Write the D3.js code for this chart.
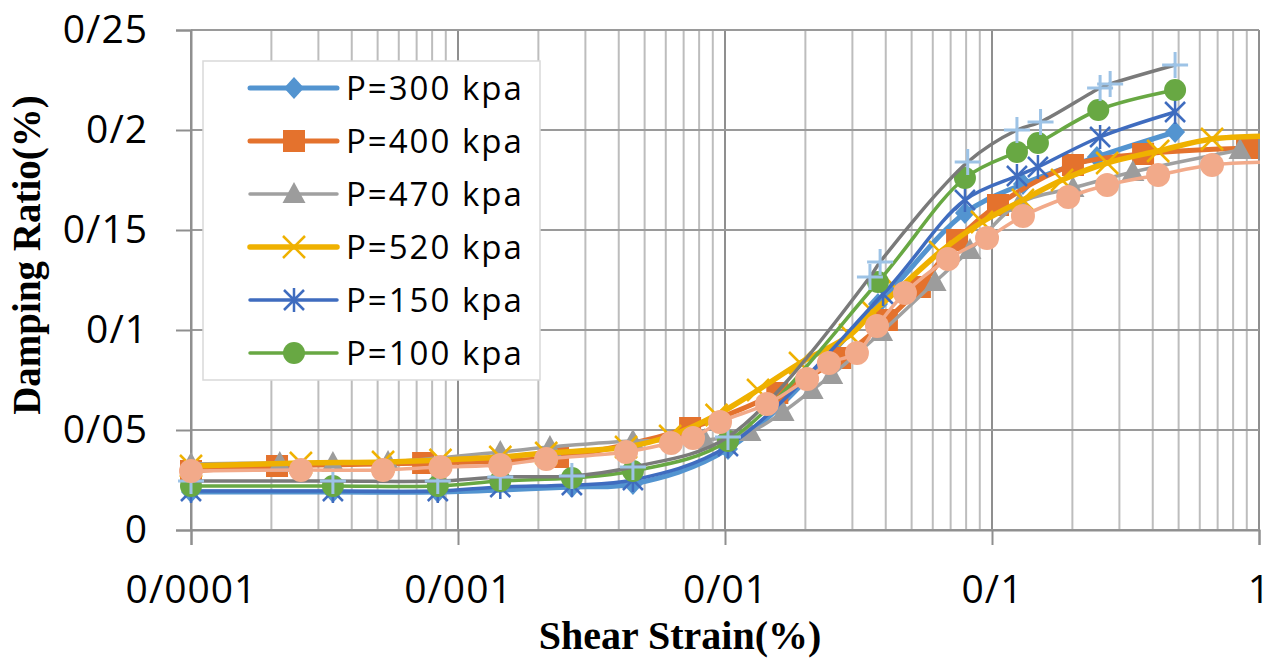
<!DOCTYPE html>
<html>
<head>
<meta charset="utf-8">
<script src="https://cdn.jsdelivr.net/npm/d3@7"></script>
<style>
  body { margin: 0; background: #fff; }
  svg { display: block; }
</style>
</head>
<body>
<script>
// values (strain in %, damping ratio)
var legendNames = ['P=300 kpa', 'P=400 kpa', 'P=470 kpa', 'P=520 kpa', 'P=150 kpa', 'P=100 kpa'];

var strain300 = [0.0001, 0.00034, 0.00084, 0.00267, 0.00452, 0.01026, 0.0374, 0.0792, 0.1306, 0.247, 0.485];
var damp300   = [0.019, 0.019, 0.019, 0.0215, 0.023, 0.0405, 0.113, 0.1585, 0.173, 0.1865, 0.199];

var strain400 = [0.0001, 0.00021, 0.00074, 0.00237, 0.0074, 0.0157, 0.027, 0.0404, 0.0537, 0.074, 0.1053, 0.201, 0.368, 0.902];
var damp400   = [0.0295, 0.032, 0.0335, 0.0365, 0.051, 0.0685, 0.086, 0.105, 0.1215, 0.145, 0.1625, 0.1825, 0.188, 0.191];

var strain470 = [0.0001, 0.000215, 0.00034, 0.000547, 0.00144, 0.00221, 0.00452, 0.0084, 0.0124, 0.0165, 0.0212, 0.0251, 0.0386, 0.0612, 0.0827, 0.127, 0.201, 0.337, 0.849];
var damp470   = [0.033, 0.0335, 0.0335, 0.034, 0.039, 0.0415, 0.0445, 0.045, 0.049, 0.059, 0.07, 0.0775, 0.099, 0.124, 0.14, 0.1635, 0.171, 0.179, 0.19];

var strain520 = [0.0001, 0.000258, 0.000524, 0.00086, 0.00144, 0.00214, 0.00426, 0.00623, 0.0093, 0.0133, 0.0191, 0.0294, 0.0358, 0.0444, 0.0639, 0.0917, 0.1306, 0.183, 0.27, 0.419, 0.667, 1.2];
var damp520   = [0.032, 0.0335, 0.034, 0.035, 0.0365, 0.0385, 0.0415, 0.047, 0.0575, 0.07, 0.0835, 0.0975, 0.109, 0.12, 0.139, 0.154, 0.165, 0.175, 0.1835, 0.1895, 0.1955, 0.197];

var strain150 = [0.0001, 0.00034, 0.00084, 0.00144, 0.00267, 0.00452, 0.01026, 0.0391, 0.0792, 0.124, 0.1486, 0.254, 0.485];
var damp150   = [0.0195, 0.0195, 0.0195, 0.0215, 0.0225, 0.025, 0.042, 0.118, 0.165, 0.177, 0.1815, 0.1965, 0.209];

var strain100 = [0.0001, 0.00034, 0.00084, 0.00144, 0.00267, 0.00452, 0.01026, 0.0374, 0.0792, 0.124, 0.1486, 0.25, 0.485];
var damp100   = [0.022, 0.022, 0.022, 0.0245, 0.026, 0.0295, 0.0445, 0.124, 0.176, 0.189, 0.1935, 0.21, 0.22];

// two more series drawn in the plot but not listed in the legend
var strain7 = [0.0001, 0.00034, 0.00084, 0.00144, 0.00267, 0.00452, 0.01026, 0.0349, 0.0381, 0.0811, 0.124, 0.152, 0.254, 0.277, 0.485];
var damp7   = [0.0245, 0.0245, 0.0245, 0.0265, 0.027, 0.0315, 0.0465, 0.1265, 0.134, 0.184, 0.2, 0.204, 0.221, 0.223, 0.2325];

var strain8 = [0.0001, 0.000258, 0.000524, 0.00086, 0.00144, 0.00214, 0.00426, 0.00628, 0.00759, 0.00958, 0.01436, 0.0203, 0.0245, 0.0312, 0.0371, 0.0472, 0.0684, 0.0958, 0.1306, 0.193, 0.27, 0.419, 0.667, 1.2];
var damp8   = [0.0295, 0.030, 0.030, 0.0315, 0.0325, 0.0355, 0.039, 0.0435, 0.046, 0.054, 0.063, 0.0755, 0.0835, 0.0885, 0.102, 0.1185, 0.1355, 0.146, 0.157, 0.1665, 0.1725, 0.1775, 0.1825, 0.184];

var yTicks = [0, 0.05, 0.1, 0.15, 0.2, 0.25];
var xTicks = [0.0001, 0.001, 0.01, 0.1, 1];

var series = [
  {name: legendNames[0], xs: strain300, ys: damp300, line: '#5394d0', lw: 5,   marker: 'diamond', mc: '#5394d0'},
  {name: legendNames[1], xs: strain400, ys: damp400, line: '#e4722d', lw: 5,   marker: 'square',  mc: '#e4722d'},
  {name: legendNames[2], xs: strain470, ys: damp470, line: '#a0a0a0', lw: 3.5, marker: 'triangle',mc: '#9c9c9c'},
  {name: legendNames[3], xs: strain520, ys: damp520, line: '#efb100', lw: 5.5, marker: 'x',       mc: '#efb100'},
  {name: legendNames[4], xs: strain150, ys: damp150, line: '#3f6cbf', lw: 3.5, marker: 'star',    mc: '#3f6cbf'},
  {name: legendNames[5], xs: strain100, ys: damp100, line: '#68a843', lw: 3.5, marker: 'circle',  mc: '#68a843'},
  {name: 'series7',      xs: strain7,   ys: damp7,   line: '#7a7a7a', lw: 3.5, marker: 'plus',    mc: '#9dc3e6'},
  {name: 'series8',      xs: strain8,   ys: damp8,   line: '#f2aa8a', lw: 3.5, marker: 'bigcircle', mc: '#f2aa8a'}
];

var W = 1279, H = 658;
var plotL = 191, plotR = 1259, plotT = 30, plotB = 530;

var x = d3.scaleLog().domain([0.0001, 1]).range([plotL, plotR]);
var y = d3.scaleLinear().domain([0, 0.25]).range([plotB, plotT]);

var fmt = function(d) { return String(+d.toFixed(4)).replace('.', '/'); };

var svg = d3.select('body').append('svg')
  .attr('width', W)
  .attr('height', H);

// minor vertical grid
var minor = [];
[0.0001, 0.001, 0.01, 0.1].forEach(function(dec) {
  for (var k = 2; k <= 9; k++) minor.push(dec * k);
});

svg.append('g').selectAll('line')
  .data(minor)
  .enter().append('line')
  .attr('x1', function(d) { return x(d); })
  .attr('x2', function(d) { return x(d); })
  .attr('y1', plotT).attr('y2', plotB)
  .attr('stroke', '#bdbdbd').attr('stroke-width', 2);

svg.append('g').selectAll('line')
  .data(xTicks)
  .enter().append('line')
  .attr('x1', function(d) { return x(d); })
  .attr('x2', function(d) { return x(d); })
  .attr('y1', plotT).attr('y2', plotB)
  .attr('stroke', '#8f8f8f').attr('stroke-width', 2);

svg.append('g').selectAll('line')
  .data(yTicks)
  .enter().append('line')
  .attr('x1', plotL).attr('x2', plotR)
  .attr('y1', function(d) { return y(d); })
  .attr('y2', function(d) { return y(d); })
  .attr('stroke', '#9a9a9a').attr('stroke-width', 2);

// axes
var yAxis = svg.append('g')
  .attr('transform', 'translate(' + plotL + ',0)')
  .call(d3.axisLeft(y).tickValues(yTicks).tickSize(15).tickPadding(28).tickFormat(fmt));

var xAxis = svg.append('g')
  .attr('transform', 'translate(0,' + plotB + ')')
  .call(d3.axisBottom(x).tickValues(xTicks).tickSize(15).tickPadding(30).tickFormat(fmt));

[yAxis, xAxis].forEach(function(g) {
  g.select('.domain').attr('stroke', '#8f8f8f').attr('stroke-width', 2);
  g.selectAll('.tick line').attr('stroke', '#8f8f8f').attr('stroke-width', 2);
  g.selectAll('.tick text')
    .attr('fill', '#000')
    .style('font-family', '"Open Sans", sans-serif')
    .style('font-size', '39px')
    .style('letter-spacing', '1px');
});

// series
svg.append('clipPath').attr('id', 'plotclip')
  .append('rect').attr('x', 0).attr('y', 0).attr('width', plotR + 1).attr('height', H);

var line = d3.line()
  .x(function(d) { return x(d[0]); })
  .y(function(d) { return y(d[1]); })
  .curve(d3.curveCatmullRom.alpha(0.5));

function drawMarker(g, type, color, cx, cy) {
  if (type === 'diamond') {
    g.append('path').attr('d', 'M0,-11L10,0L0,11L-10,0Z')
      .attr('transform', 'translate(' + cx + ',' + cy + ')').attr('fill', color);
  } else if (type === 'square') {
    g.append('rect').attr('x', cx - 11).attr('y', cy - 11).attr('width', 22).attr('height', 22).attr('fill', color);
  } else if (type === 'triangle') {
    g.append('path').attr('d', 'M0,-12L11.5,9L-11.5,9Z')
      .attr('transform', 'translate(' + cx + ',' + cy + ')').attr('fill', color);
  } else if (type === 'x') {
    g.append('path').attr('d', 'M-11,-11L11,11M-11,11L11,-11')
      .attr('transform', 'translate(' + cx + ',' + cy + ')').attr('stroke', color).attr('stroke-width', 2.5);
  } else if (type === 'star') {
    g.append('path').attr('d', 'M-10,-10L10,10M-10,10L10,-10M0,-12L0,12')
      .attr('transform', 'translate(' + cx + ',' + cy + ')').attr('stroke', color).attr('stroke-width', 2.5);
  } else if (type === 'circle') {
    g.append('circle').attr('cx', cx).attr('cy', cy).attr('r', 11).attr('fill', color);
  } else if (type === 'bigcircle') {
    g.append('circle').attr('cx', cx).attr('cy', cy).attr('r', 12).attr('fill', color);
  } else if (type === 'plus') {
    g.append('path').attr('d', 'M-13,0L13,0M0,-13L0,13')
      .attr('transform', 'translate(' + cx + ',' + cy + ')').attr('stroke', color).attr('stroke-width', 3);
  }
}

var plot = svg.append('g').attr('clip-path', 'url(#plotclip)');

series.forEach(function(s) {
  var pts = s.xs.map(function(v, i) { return [v, s.ys[i]]; });
  var g = plot.append('g');
  g.append('path')
    .datum(pts)
    .attr('d', line)
    .attr('fill', 'none')
    .attr('stroke', s.line)
    .attr('stroke-width', s.lw)
    .attr('stroke-linecap', 'round');
  pts.forEach(function(p) {
    if (p[0] <= 1) drawMarker(g, s.marker, s.mc, x(p[0]), y(p[1]));
  });
});

// legend
var lg = svg.append('g');
lg.append('rect')
  .attr('x', 203).attr('y', 61).attr('width', 337).attr('height', 319)
  .attr('fill', '#fff').attr('stroke', '#d9d9d9').attr('stroke-width', 1.5);

series.slice(0, 6).forEach(function(s, i) {
  var cy = 88 + i * 53;
  lg.append('line')
    .attr('x1', 250).attr('x2', 337).attr('y1', cy).attr('y2', cy)
    .attr('stroke', s.line).attr('stroke-width', s.lw).attr('stroke-linecap', 'round');
  drawMarker(lg, s.marker, s.mc, 294, cy);
  lg.append('text')
    .attr('x', 346).attr('y', cy)
    .attr('dy', '0.35em')
    .style('font-family', '"Open Sans", sans-serif')
    .style('font-size', '33px')
    .style('letter-spacing', '2px')
    .text(s.name);
});

// axis titles
svg.append('text')
  .attr('transform', 'translate(40,255) rotate(-90)')
  .attr('text-anchor', 'middle')
  .style('font-family', '"Liberation Serif", serif')
  .style('font-weight', 'bold')
  .style('font-size', '39px')
  .text('Damping Ratio(%)');

svg.append('text')
  .attr('x', 680).attr('y', 649)
  .attr('text-anchor', 'middle')
  .style('font-family', '"Liberation Serif", serif')
  .style('font-weight', 'bold')
  .style('font-size', '40px')
  .text('Shear Strain(%)');
</script>
</body>
</html>
